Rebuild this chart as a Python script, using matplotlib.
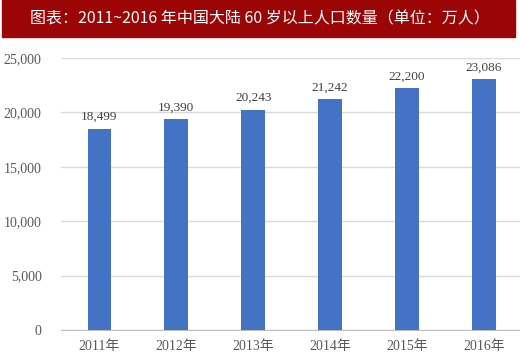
import matplotlib
matplotlib.use('Agg')
from matplotlib import pyplot as plt
from matplotlib.patches import Rectangle
from matplotlib.ticker import FuncFormatter

years = ['2011年', '2012年', '2013年', '2014年', '2015年', '2016年']
values = [18499, 19390, 20243, 21242, 22200, 23086]
title = '图表：2011~2016 年中国大陆 60 岁以上人口数量（单位：万人）'

serif = ['Liberation Serif', 'Noto Sans CJK SC']

W, H = 520, 359
fig = plt.figure(figsize=(W / 100, H / 100), dpi=100)

# red title band
fig.patches.append(Rectangle((2 / W, 1 - 37 / H), 513 / W, 37 / H,
                             transform=fig.transFigure, color='#9c0505', zorder=0))
fig.text(260 / W, 1 - 19 / H, title, color='white', fontsize=11.5,
         family=['Noto Sans CJK SC', 'DejaVu Sans'], ha='center', va='center')

ax = fig.add_axes([61 / W, 29 / H, 1 - 61 / W, 272 / H])
x = range(len(years))
bars = ax.bar(x, values, width=0.31, color='#4472c4', zorder=3)

ax.set_ylim(0, 25000)
ax.set_xlim(-0.5, 5.47)
ax.set_yticks(range(0, 25001, 5000))
ax.yaxis.set_major_formatter(FuncFormatter(lambda v, p: f'{int(v):,}'))
ax.set_xticks(list(x))
ax.set_xticklabels(years)
ax.grid(axis='y', color='#d9d9d9', linewidth=1, zorder=0)
for s in ['top', 'right', 'left']:
    ax.spines[s].set_visible(False)
ax.spines['bottom'].set_color('#bfbfbf')
ax.tick_params(axis='both', length=0, colors='#595959', labelsize=10)
ax.tick_params(axis='y', pad=14)
ax.tick_params(axis='x', pad=7)
for lab in ax.get_xticklabels() + ax.get_yticklabels():
    lab.set_family(serif)

for b, v in zip(bars, values):
    ax.annotate(f'{v:,}', (b.get_x() + b.get_width() / 2, v), xytext=(0, 4),
                textcoords='offset points', ha='center', va='bottom',
                fontsize=9.5, color='#404040', family=serif)

fig.savefig('out.png', dpi=100)
